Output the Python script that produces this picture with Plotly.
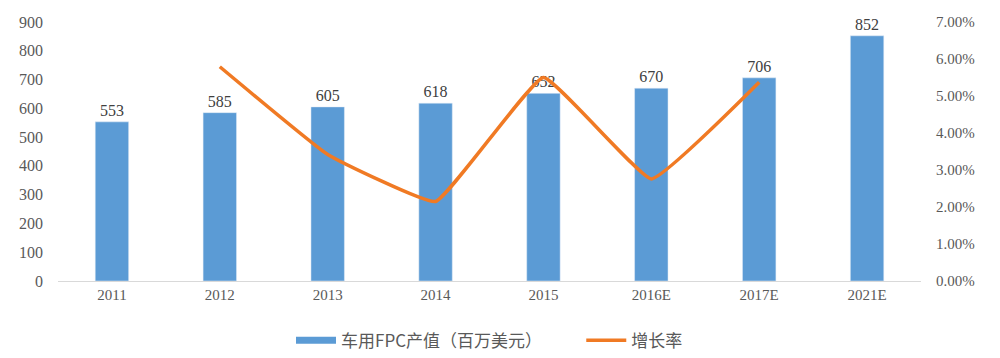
import plotly.graph_objects as go

categories = ["2011", "2012", "2013", "2014", "2015", "2016E", "2017E", "2021E"]
fpc_values = [553, 585, 605, 618, 652, 670, 706, 852]
growth_categories = ["2012", "2013", "2014", "2015", "2016E", "2017E"]
growth_rates = [0.0579, 0.0342, 0.0215, 0.0550, 0.0276, 0.0537]
left_ticks = [0, 100, 200, 300, 400, 500, 600, 700, 800, 900]
right_ticks = [0, 0.01, 0.02, 0.03, 0.04, 0.05, 0.06, 0.07]

bar_name = "车用FPC产值（百万美元）"
line_name = "增长率"
blue = "#5B9BD5"
orange = "#F07A24"
serif = "Liberation Serif"
cjk = "Noto Sans CJK SC"

fig = go.Figure()
fig.add_trace(go.Bar(
    x=categories, y=fpc_values, marker_color=blue, width=0.31,
    text=[str(v) for v in fpc_values], textposition="outside",
    textfont=dict(family=serif, size=16, color="#404040"),
    cliponaxis=False, showlegend=False, name=bar_name,
))
fig.add_trace(go.Scatter(
    x=growth_categories, y=growth_rates, mode="lines", yaxis="y2",
    line=dict(color=orange, width=3.5, shape="spline", smoothing=0.3),
    showlegend=False, name=line_name,
))
# legend proxies
fig.add_trace(go.Scatter(x=[None], y=[None], mode="lines",
                         name=bar_name + "\u00a0" * 9,
                         line=dict(color=blue, width=7)))
fig.add_trace(go.Scatter(x=[None], y=[None], mode="lines", name=line_name,
                         line=dict(color=orange, width=3.5), yaxis="y2"))

fig.update_layout(
    width=1000, height=358,
    margin=dict(l=58, r=79, t=22, b=77, autoexpand=False),
    paper_bgcolor="white", plot_bgcolor="white",
    font=dict(family=serif, size=15, color="#595959"),
    xaxis=dict(
        categoryorder="array", categoryarray=categories,
        showline=True, linecolor="#D9D9D9", linewidth=1,
        ticks="", showgrid=False,
        tickfont=dict(family=serif, size=15, color="#595959"),
    ),
    yaxis=dict(
        range=[0, 900], tickvals=left_ticks, showgrid=False, zeroline=False,
        showline=False, ticks="", ticklabelstandoff=14,
        tickfont=dict(family=serif, size=16, color="#595959"),
    ),
    yaxis2=dict(
        range=[0, 0.07], tickvals=right_ticks, tickformat=".2%",
        overlaying="y", side="right", showgrid=False, zeroline=False,
        showline=False, ticks="", ticklabelstandoff=14,
        tickfont=dict(family=serif, size=15, color="#595959"),
    ),
    legend=dict(
        orientation="h", x=0.5, xanchor="center",
        yref="container", y=0.048, yanchor="middle",
        font=dict(family=cjk, size=17, color="#595959"),
        itemwidth=40,
    ),
)

fig.write_html("out.html")
